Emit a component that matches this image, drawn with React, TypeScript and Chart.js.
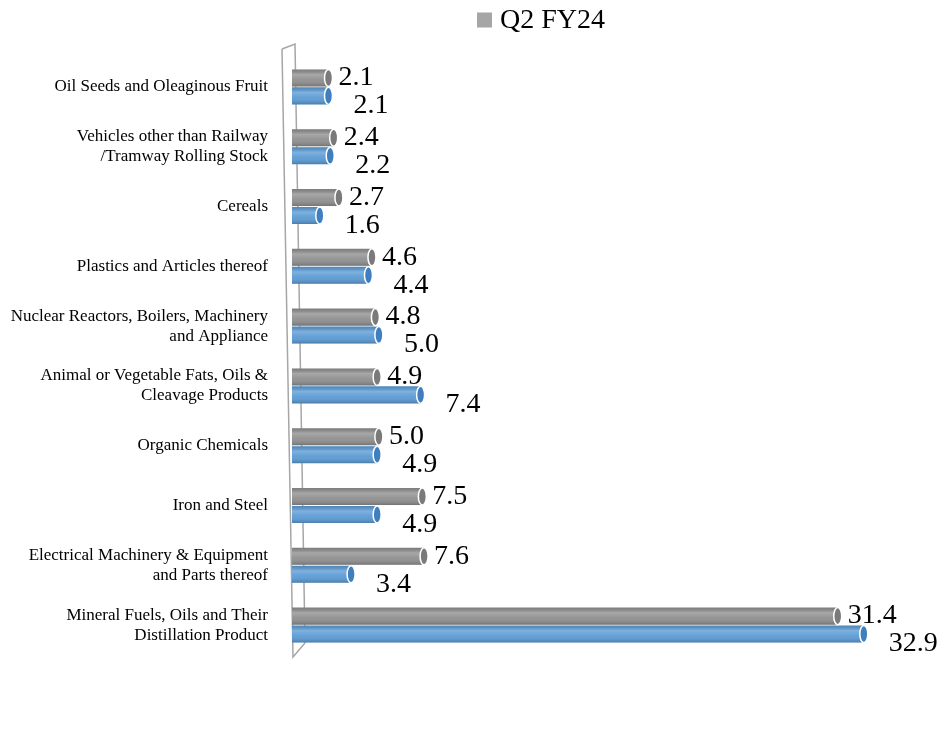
import React, { useEffect, useRef } from "react";
import { Chart, registerables } from "chart.js";

Chart.register(...registerables);

const categories: (string | string[])[] = [
  "Oil Seeds and Oleaginous Fruit",
  ["Vehicles other than Railway", "/Tramway Rolling Stock"],
  "Cereals",
  "Plastics and Articles thereof",
  ["Nuclear Reactors, Boilers, Machinery", "and Appliance"],
  ["Animal or Vegetable Fats, Oils &", "Cleavage Products"],
  "Organic Chemicals",
  "Iron and Steel",
  ["Electrical Machinery & Equipment", "and Parts thereof"],
  ["Mineral Fuels, Oils and Their", "Distillation Product"],
];

const q2FY24 = [2.1, 2.4, 2.7, 4.6, 4.8, 4.9, 5.0, 7.5, 7.6, 31.4];
const otherSeries = [2.1, 2.2, 1.6, 4.4, 5.0, 7.4, 4.9, 4.9, 3.4, 32.9];

const legendLabel = "Q2 FY24";
const FONT = "'Liberation Serif', 'DejaVu Serif', serif";

const GRAY = "#8f8f8f";
const BLUE = "#5b9bd5";

const decorPlugin = {
  id: "decor",
  beforeDatasetsDraw(chart: any) {
    const { ctx, chartArea } = chart;
    const l = chartArea.left;
    const t = chartArea.top;
    const b = chartArea.bottom;
    ctx.save();
    ctx.strokeStyle = "#a6a6a6";
    ctx.lineWidth = 1.5;
    ctx.beginPath();
    ctx.moveTo(l - 10, t - 8);
    ctx.lineTo(l + 3, t - 13);
    ctx.lineTo(l + 13, b - 12);
    ctx.moveTo(l - 10, t - 8);
    ctx.lineTo(l + 1, b + 2);
    ctx.lineTo(l + 13, b - 12);
    ctx.stroke();
    ctx.restore();
  },
  afterDatasetsDraw(chart: any) {
    const { ctx } = chart;
    ctx.save();
    chart.data.datasets.forEach((ds: any, di: number) => {
      const meta = chart.getDatasetMeta(di);
      meta.data.forEach((el: any, i: number) => {
        const p = el.getProps(["x", "y", "base", "height"], true);
        const h = p.height;
        const top = p.y - h / 2;
        const g = ctx.createLinearGradient(0, top, 0, top + h);
        g.addColorStop(0, "rgba(0,0,0,0.12)");
        g.addColorStop(0.3, "rgba(255,255,255,0.22)");
        g.addColorStop(0.6, "rgba(255,255,255,0.05)");
        g.addColorStop(1, "rgba(0,0,0,0.2)");
        ctx.fillStyle = g;
        ctx.fillRect(p.base, top, p.x - p.base, h);
        ctx.beginPath();
        ctx.ellipse(p.x, p.y, 4, h / 2, 0, 0, Math.PI * 2);
        ctx.fillStyle = di === 0 ? "#7a7a7a" : "#3f7fbf";
        ctx.fill();
        ctx.lineWidth = 1.5;
        ctx.strokeStyle = "#ffffff";
        ctx.stroke();
        ctx.fillStyle = "#000000";
        ctx.font = `28px ${FONT}`;
        ctx.textBaseline = "middle";
        ctx.textAlign = "left";
        const v = ds.data[i].toFixed(1);
        if (di === 0) ctx.fillText(v, p.x + 10, p.y);
        else ctx.fillText(v, p.x + 25, p.y + 10);
      });
    });
    ctx.restore();
  },
  afterDraw(chart: any) {
    const { ctx } = chart;
    ctx.save();
    ctx.font = `28px ${FONT}`;
    const tw = ctx.measureText(legendLabel).width;
    const box = 15;
    const gap = 8;
    const total = box + gap + tw;
    const cx = 541;
    const x0 = cx - total / 2;
    const y = 20;
    ctx.fillStyle = "#a6a6a6";
    ctx.fillRect(x0, y - box / 2, box, box);
    ctx.fillStyle = "#000000";
    ctx.textBaseline = "middle";
    ctx.textAlign = "left";
    ctx.fillText(legendLabel, x0 + box + gap, y + 1);
    ctx.restore();
  },
};

export default function App() {
  const ref = useRef<HTMLCanvasElement | null>(null);
  useEffect(() => {
    if (!ref.current) return;
    const chart = new Chart(ref.current, {
      type: "bar",
      data: {
        labels: categories,
        datasets: [
          {
            label: legendLabel,
            data: q2FY24,
            backgroundColor: GRAY,
            categoryPercentage: 0.6,
            barPercentage: 0.95,
          },
          {
            label: "",
            data: otherSeries,
            backgroundColor: BLUE,
            categoryPercentage: 0.6,
            barPercentage: 0.95,
          },
        ],
      },
      options: {
        indexAxis: "y",
        animation: false,
        responsive: true,
        maintainAspectRatio: false,
        layout: { padding: { top: 57, bottom: 79, right: 40, left: 0 } },
        plugins: {
          legend: { display: false },
          tooltip: { enabled: false },
        },
        scales: {
          x: {
            display: false,
            min: 0,
            max: 35.5,
          },
          y: {
            grid: { display: false, drawTicks: false },
            border: { display: false },
            afterFit(scale: any) {
              scale.width = 292;
            },
            ticks: {
              color: "#000000",
              padding: 24,
              font: { family: FONT, size: 17, lineHeight: 1.18 },
            },
          },
        },
      },
      plugins: [decorPlugin],
    });
    return () => chart.destroy();
  }, []);
  return (
    <div style={{ position: "absolute", left: 0, top: 0, width: 949, height: 734, background: "#ffffff" }}>
      <canvas ref={ref} />
    </div>
  );
}
